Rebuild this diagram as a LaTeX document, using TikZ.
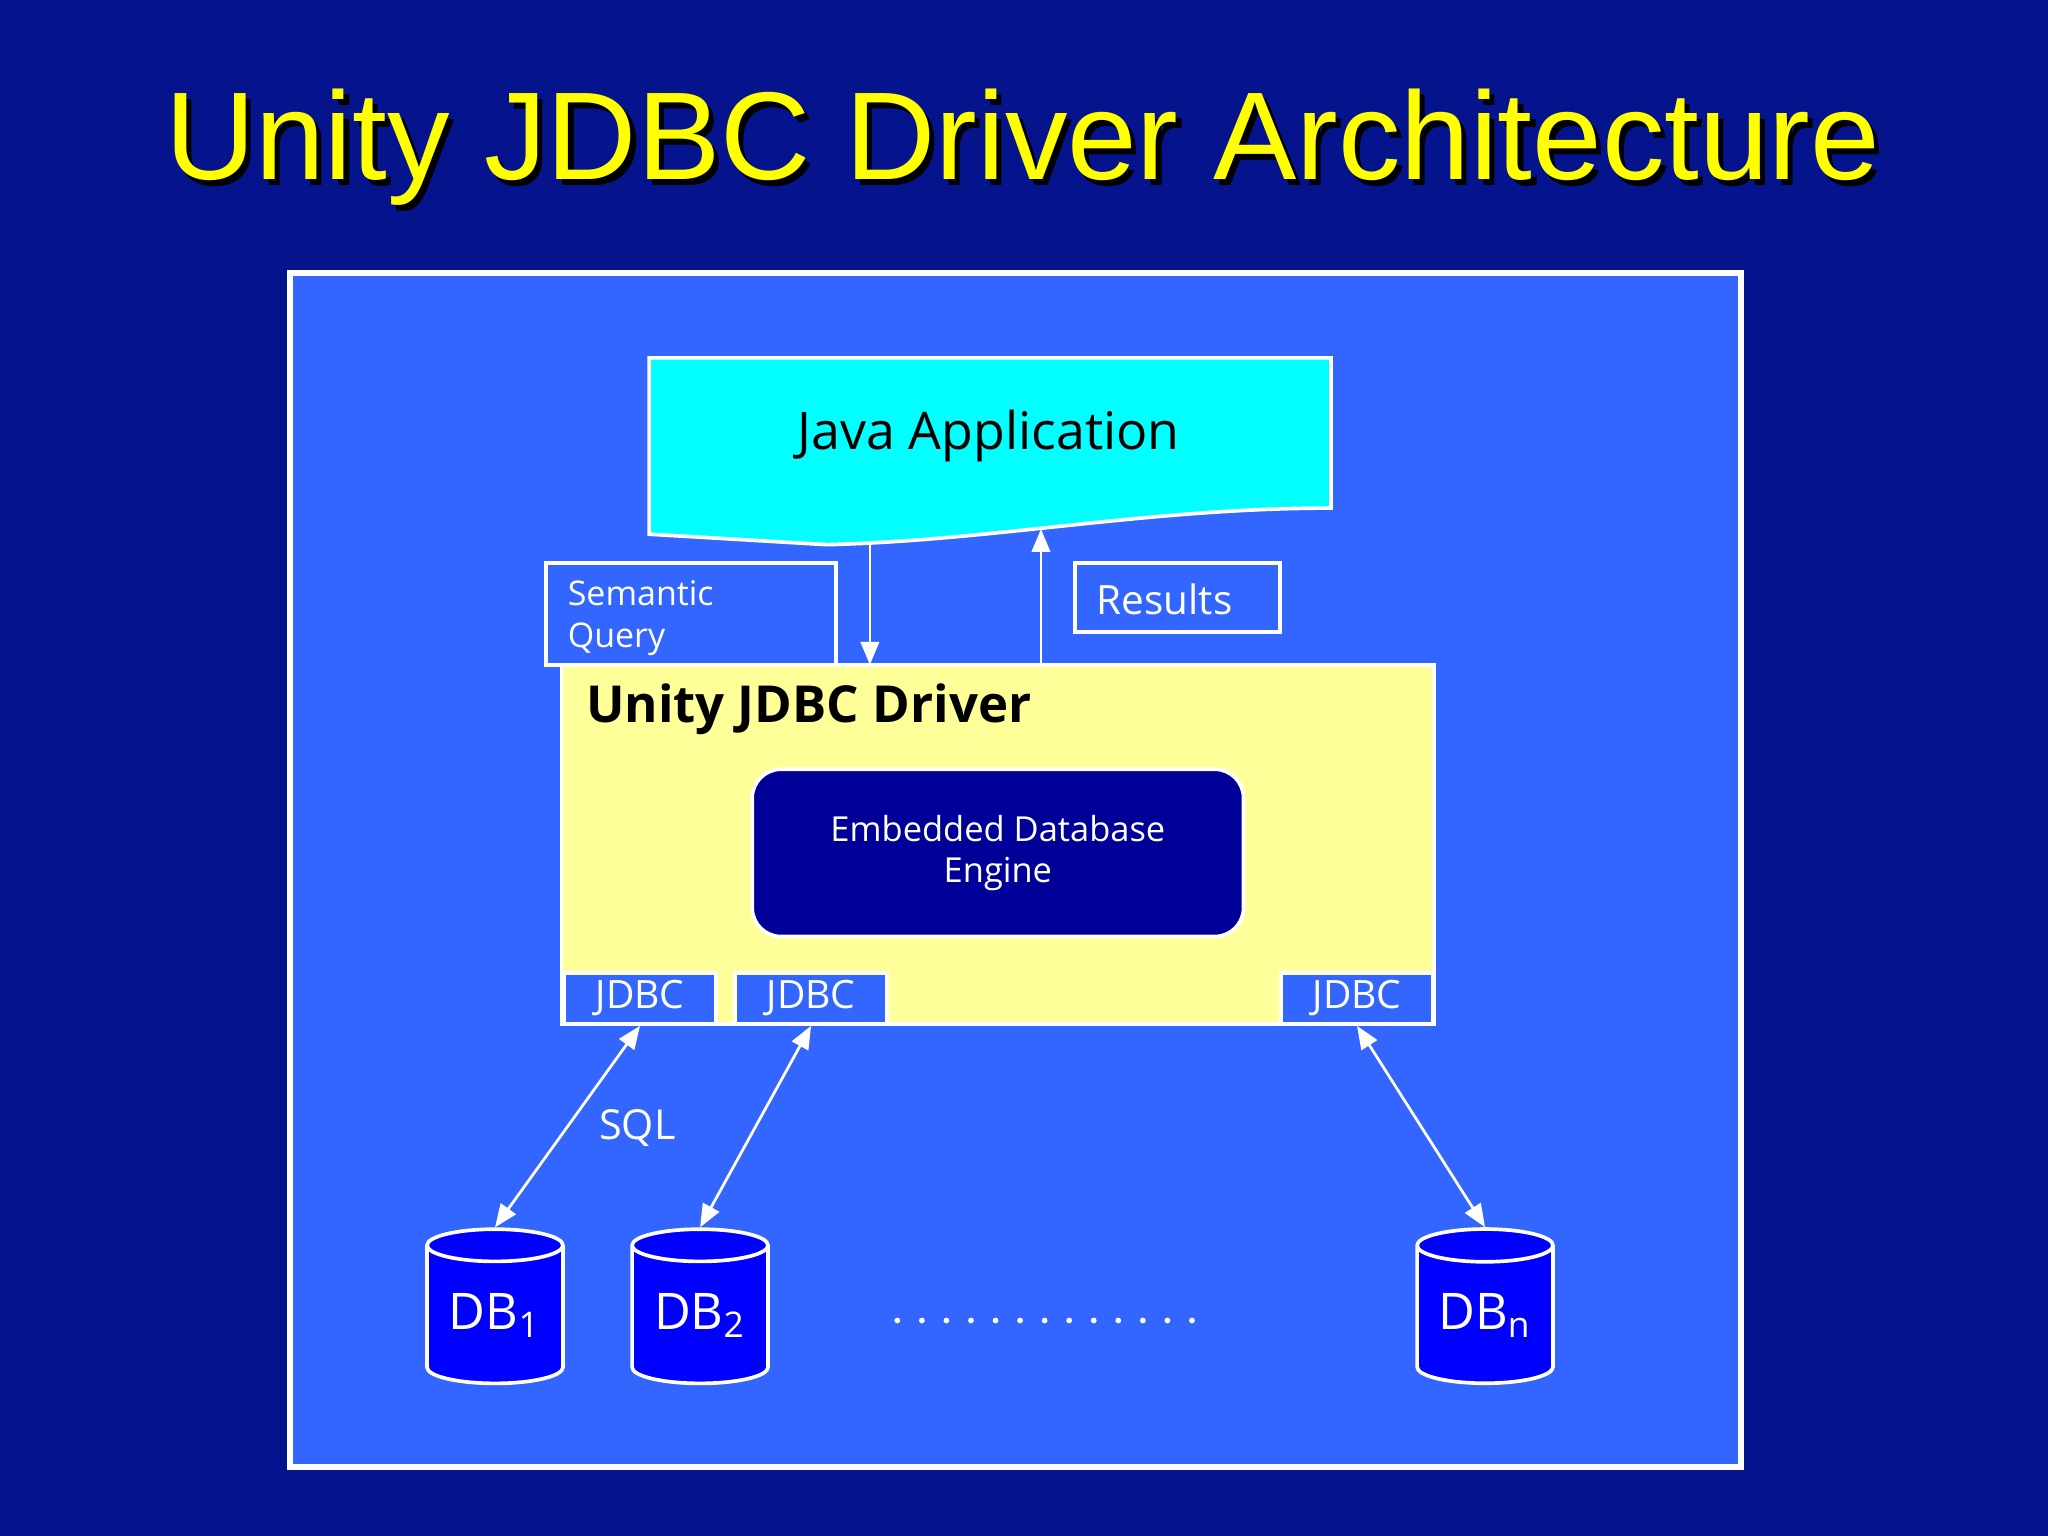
\documentclass[tikz,border=0pt]{standalone}
\usepackage{fontspec}
\setmainfont{Open Sans}
\newfontfamily\titlefont{Liberation Sans}
\usetikzlibrary{shapes.geometric,arrows.meta}
\definecolor{bgblue}{RGB}{5,20,140}
\definecolor{panel}{RGB}{51,102,255}
\definecolor{drv}{RGB}{255,255,153}
\definecolor{eng}{RGB}{0,0,153}
\definecolor{dbb}{RGB}{0,0,255}
\definecolor{ttl}{RGB}{255,255,0}
\definecolor{cyanapp}{RGB}{0,255,255}
\tikzset{
  wbox/.style={draw=white,line width=0.8pt},
  conn/.style={white,line width=0.6pt,-{Triangle[length=5pt,width=4pt]}},
  bconn/.style={white,line width=0.6pt,{Triangle[length=5pt,width=4pt]}-{Triangle[length=5pt,width=4pt]}},
  jdbc/.style={wbox,fill=panel,minimum width=1.16cm,minimum height=0.39cm,text=white,font=\fontsize{8.5}{10}\selectfont,inner sep=0pt},
  db/.style={cylinder,shape border rotate=90,aspect=0.35,draw=white,line width=0.8pt,fill=dbb,minimum width=1.04cm,minimum height=1.18cm,text=white,font=\fontsize{11}{12}\selectfont,inner sep=0pt}
}
\begin{document}
\begin{tikzpicture}[x=0.01cm,y=-0.01cm]
\useasboundingbox (0,0) rectangle (1568,1176);
\fill[bgblue] (0,0) rectangle (1568,1176);
\node[font=\titlefont\fontsize{27.2}{30}\selectfont,text=black] at (787,117) {Unity JDBC Driver Architecture};
\node (title) [font=\titlefont\fontsize{27.2}{30}\selectfont,text=ttl] at (783,113) {Unity JDBC Driver Architecture};
\draw[draw=white,line width=1.2pt,fill=panel] (222,209) rectangle (1333,1123);
% java app
\draw[wbox,fill=cyanapp] (497,274) -- (1019,274) -- (1019,389) .. controls (880,389) and (760,414) .. (633,417) -- (497,409) -- cycle;
\node (java) at (757,334) {\fontsize{11.3}{13}\selectfont Java Application};
\coordinate (jdown) at (666,417);
\coordinate (jup) at (797,405);
% labels
\draw[wbox] (418,431) rectangle (640,509);
\node (sq) [anchor=north west,text=white,align=left,font=\fontsize{7.4}{9}\selectfont,inner sep=0pt] at (434,444) {Semantic\\Query};
\draw[wbox] (823,431) rectangle (980,484);
\node (res) [anchor=west,text=white,font=\fontsize{8.8}{10}\selectfont,inner sep=0pt] at (839,459) {Results};
% driver
\draw[wbox,fill=drv] (430,509) rectangle (1098,784);
\node (drvt) [anchor=west,font=\bfseries\fontsize{11.1}{13}\selectfont,inner sep=0pt] at (448,543) {Unity JDBC Driver};
\node (eng) [draw=white,line width=0.8pt,fill=eng,rounded corners=0.22cm,minimum width=3.76cm,minimum height=1.28cm,text=white,align=center,font=\fontsize{7.5}{9}\selectfont] at (764,653) {Embedded Database\\ Engine};
\node (j1) [jdbc] at (490,764.5) {JDBC};
\node (j2) [jdbc] at (621,764.5) {JDBC};
\node (j3) [jdbc] at (1039,764.5) {JDBC};
\coordinate (dtop) at (666,509);
\coordinate (utop) at (797,509);
\draw[conn] (jdown) -- (dtop);
\draw[conn] (utop) -- (jup);
% dbs
\node (db1) [db] at (379,1007) {DB\textsubscript{1}};
\node (db2) [db] at (536,1007) {DB\textsubscript{2}};
\node (dbn) [db] at (1137,1007) {DB\textsubscript{n}};
\draw[bconn] (j1.south) -- (db1.north);
\draw[bconn] (j2.south) -- (db2.north);
\draw[bconn] (j3.south) -- (dbn.north);
\node (sql) [text=white,font=\fontsize{9}{10}\selectfont] at (488,864) {SQL};
\foreach \i in {0,...,12} \fill[white] (687+\i*18.8,1011) circle (2.2);
\end{tikzpicture}
\end{document}
